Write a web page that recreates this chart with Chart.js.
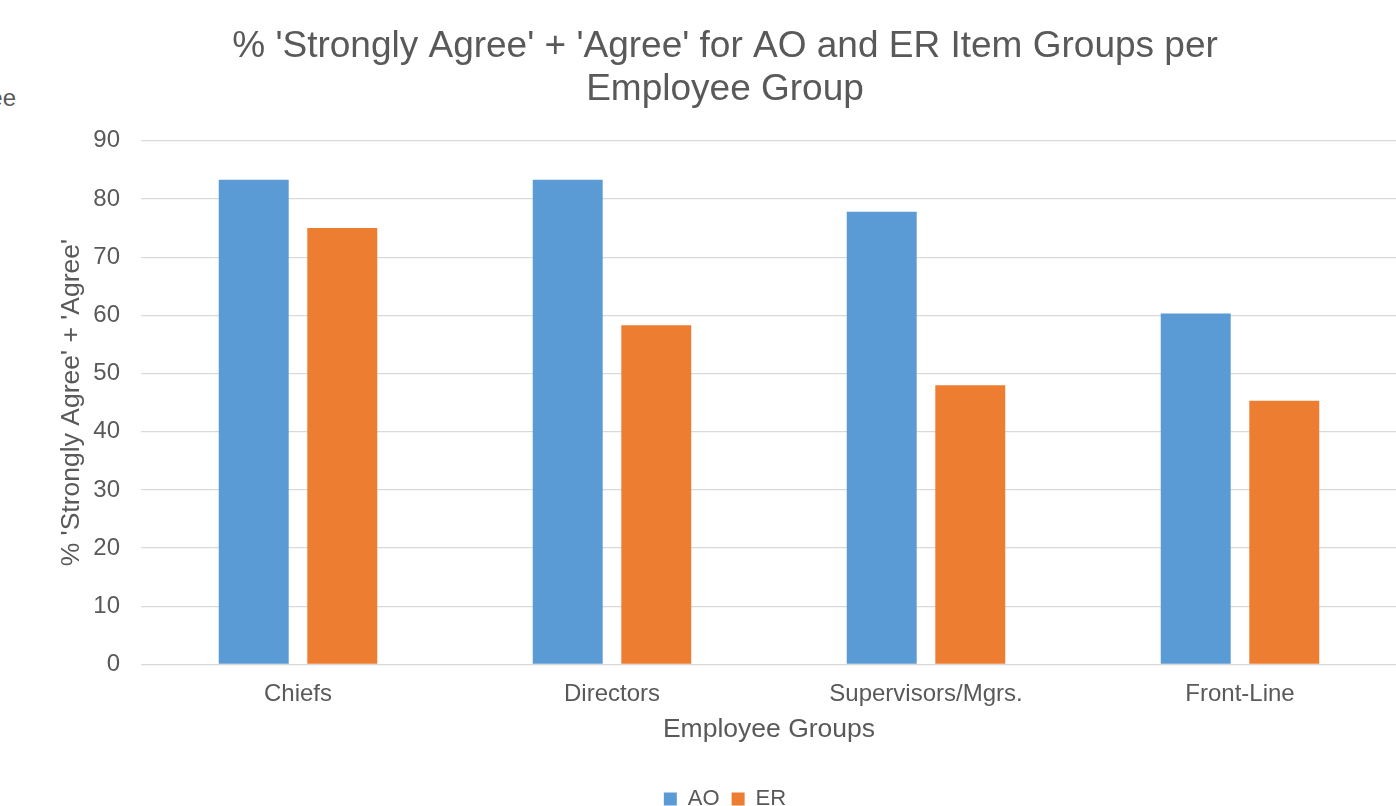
<!DOCTYPE html>
<html lang="en">

<head>
    <meta charset="UTF-8">
    <title>% Strongly Agree + Agree</title>
    <script src="https://cdn.jsdelivr.net/npm/chart.js"></script>
    <style>
        html, body { margin: 0; padding: 0; background: #fff; overflow: hidden; }
        .janela { position: relative; width: 1396px; height: 806px; overflow: hidden; }
        .caixa { position: absolute; left: 0; top: 0; width: 1450px; height: 830px; }
        .resto {
            position: absolute; right: 1380px; top: 84px;
            font: 24px "Liberation Sans", Arial, sans-serif; color: #595959;
            white-space: nowrap;
        }
    </style>
</head>

<body>
    <div class="janela">
        <span class="resto">ee</span>
        <div class="caixa">
            <canvas id="grafico"></canvas>
        </div>
    </div>

<script>
    // dados
    const grupos = ["Chiefs", "Directors", "Supervisors/Mgrs.", "Front-Line"];
    const valoresAO = [83.3, 83.3, 77.8, 60.3];
    const valoresER = [75.0, 58.3, 48.0, 45.3];
    const ticksY = [0, 10, 20, 30, 40, 50, 60, 70, 80, 90];

    const cinza = '#595959';
    const fonte = '"Liberation Sans", Arial, sans-serif';

    const data = {
        labels: grupos,
        datasets: [{
                label: 'AO',
                backgroundColor: '#5B9BD5',
                data: valoresAO,
            },
            {
                label: 'ER',
                backgroundColor: '#ED7D31',
                data: valoresER,
            }
        ]
    };

    const config = {
        type: 'bar',
        data: data,
        options: {
            responsive: false,
            animation: false,
            maintainAspectRatio: false,
            categoryPercentage: 0.564,
            barPercentage: 0.79,
            layout: {
                padding: { left: 53, right: 53, top: 0, bottom: 10 }
            },
            plugins: {
                title: {
                    display: true,
                    text: ["% 'Strongly Agree' + 'Agree' for AO and ER Item Groups per", "Employee Group"],
                    color: cinza,
                    font: { family: fonte, size: 37, weight: 'normal', lineHeight: 1.16 },
                    padding: { top: 25, bottom: 30 }
                },
                legend: {
                    position: 'bottom',
                    labels: {
                        color: cinza,
                        font: { family: fonte, size: 22 },
                        boxWidth: 13,
                        boxHeight: 13,
                        padding: 12
                    }
                },
                tooltip: { enabled: false }
            },
            scales: {
                x: {
                    grid: { display: false, drawTicks: false },
                    border: { display: false },
                    ticks: {
                        color: cinza,
                        font: { family: fonte, size: 24 },
                        padding: 16,
                        maxRotation: 0
                    },
                    title: {
                        display: true,
                        text: 'Employee Groups',
                        color: cinza,
                        font: { family: fonte, size: 26.5 },
                        padding: { top: -11, bottom: 30 }
                    }
                },
                y: {
                    min: 0,
                    max: 90,
                    afterFit: function (escala) { escala.width = 88; },
                    afterBuildTicks: function (escala) {
                        escala.ticks = ticksY.map(v => ({ value: v }));
                    },
                    grid: { color: '#d9d9d9', lineWidth: 1.3, drawTicks: false },
                    border: { display: false },
                    ticks: {
                        color: cinza,
                        font: { family: fonte, size: 24 },
                        padding: 21
                    },
                    title: {
                        display: true,
                        text: "% 'Strongly Agree' + 'Agree'",
                        color: cinza,
                        font: { family: fonte, size: 26.5 },
                        padding: { top: 3, bottom: 0 }
                    }
                }
            }
        }
    };

    const canvas = document.getElementById('grafico');
    canvas.width = 1450;
    canvas.height = 830;
    canvas.style.width = '1450px';
    canvas.style.height = '830px';

    const meuGrafico = new Chart(canvas, config);
</script>
</body>

</html>
